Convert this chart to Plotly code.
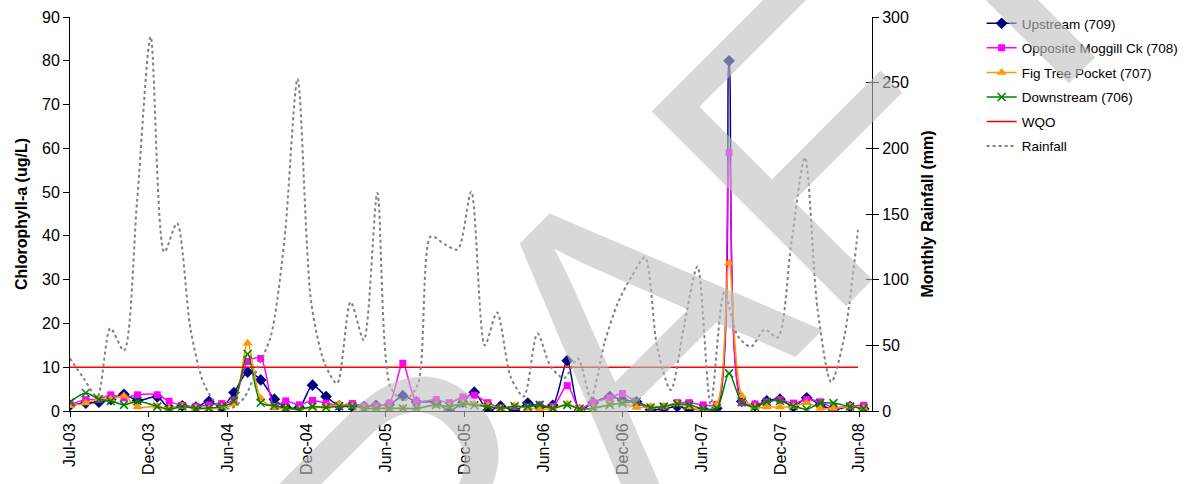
import plotly.graph_objects as go
import pandas as pd

FONT = "Liberation Sans, Arial, sans-serif"

# ---------------- data ----------------
sample_dates = [
    "2003-07-01", "2003-08-06", "2003-09-05", "2003-10-02", "2003-11-01", "2003-12-02",
    "2004-01-16", "2004-02-12", "2004-03-13", "2004-04-13", "2004-05-13", "2004-06-11",
    "2004-07-09", "2004-08-09", "2004-09-08", "2004-10-09", "2004-11-04", "2004-12-05",
    "2005-01-04", "2005-02-04", "2005-03-06", "2005-04-05", "2005-05-02", "2005-05-29",
    "2005-06-28", "2005-07-29", "2005-08-29", "2005-10-13", "2005-11-12", "2005-12-13",
    "2006-01-08", "2006-02-08", "2006-03-09", "2006-04-10", "2006-05-10", "2006-06-06",
    "2006-07-06", "2006-08-08", "2006-09-05", "2006-10-06", "2006-11-13", "2006-12-12",
    "2007-01-13", "2007-02-14", "2007-03-16", "2007-04-16", "2007-05-13", "2007-06-14",
    "2007-07-15", "2007-08-12", "2007-09-10", "2007-10-10", "2007-11-06", "2007-12-06",
    "2008-01-06", "2008-02-05", "2008-03-07", "2008-04-06", "2008-05-14", "2008-06-14",
]

upstream = [1.3, 1.8, 2.0, 2.6, 3.8, 2.4, 3.2, 0.7, 1.2, 0.9, 2.2, 0.9,
            4.2, 8.9, 7.1, 2.7, 0.9, 0.8, 5.9, 3.3, 1.2, 1.0, 1.0, 1.3,
            1.4, 3.5, 2.1, 2.0, 0.0, 2.0, 4.3, 0.1, 1.1, 0.1, 1.8, 1.0,
            1.3, 11.5, 0.2, 1.9, 3.3, 2.5, 2.1, 0.3, 0.5, 1.0, 0.4, 0.4,
            0.6, 80.0, 2.2, 1.2, 2.3, 2.7, 1.0, 3.0, 1.4, 0.3, 1.0, 0.5]

opposite = [1.5, 2.6, 2.7, 3.7, 3.0, 3.7, 3.7, 2.2, 1.3, 1.0, 1.4, 1.7,
            2.5, 11.3, 12.0, 1.0, 2.3, 1.4, 2.4, 1.8, 1.3, 1.7, 1.1, 1.2,
            1.8, 10.9, 2.3, 2.6, 1.9, 3.2, 3.6, 1.9, 0.7, 1.0, 0.9, 1.4,
            1.0, 5.8, 0.6, 2.0, 3.0, 4.0, 1.9, 0.8, 1.0, 1.9, 1.9, 1.4,
            1.5, 59.0, 1.9, 1.6, 2.1, 2.6, 1.8, 2.6, 2.1, 0.8, 1.1, 1.3]

figtree = [1.2, 1.8, 2.8, 2.7, 3.4, 0.9, 1.1, 0.6, 1.0, 0.6, 0.4, 0.9,
           1.6, 15.5, 2.9, 0.8, 0.6, 0.3, 0.9, 0.9, 1.5, 1.1, 0.6, 0.5,
           0.5, 0.7, 0.6, 1.3, 1.1, 1.8, 1.6, 1.3, 0.5, 1.2, 0.6, 0.4,
           0.5, 1.6, 0.5, 0.6, 1.5, 1.7, 0.8, 1.0, 1.1, 1.6, 0.9, 0.1,
           1.4, 33.8, 3.5, 0.9, 0.9, 0.9, 1.0, 1.9, 0.6, 0.6, 1.0, 0.6]

downstream = [2.0, 4.1, 2.7, 2.3, 1.4, 2.3, 1.0, 0.4, 1.0, 0.6, 0.7, 1.0,
              2.3, 13.0, 1.9, 1.2, 0.7, 0.4, 1.0, 0.8, 1.1, 1.1, 0.6, 0.6,
              0.6, 0.6, 0.6, 1.4, 1.0, 1.6, 1.3, 1.0, 0.6, 1.1, 1.0, 1.4,
              0.6, 1.4, 0.5, 0.6, 1.4, 1.8, 2.1, 0.8, 1.0, 1.6, 1.4, 0.5,
              0.6, 8.6, 2.0, 0.9, 2.1, 2.3, 1.1, 0.4, 1.8, 1.8, 1.0, 0.6]

rain_months = pd.date_range("2003-07-01", "2008-06-01", freq="MS")
rainfall = [40, 25, 11, 63, 46, 160, 285, 121, 143, 62, 21, 5,
            2, 10, 33, 57, 130, 253, 83, 36, 21, 83, 54, 166,
            18, 8, 20, 133, 127, 123, 167, 50, 75, 26, 11, 59,
            34, 25, 40, 10, 52, 82, 102, 117, 49, 16, 64, 110,
            5, 90, 57, 49, 62, 56, 128, 193, 77, 22, 57, 138]

wqo_value = 10
wqo_dates = ["2003-07-01", "2008-06-01"]

tick_dates = ["2003-07-01", "2003-12-28", "2004-06-25", "2004-12-22", "2005-06-20",
              "2005-12-17", "2006-06-15", "2006-12-12", "2007-06-10", "2007-12-07",
              "2008-06-04"]
tick_labels = ["Jul-03", "Dec-03", "Jun-04", "Dec-04", "Jun-05", "Dec-05",
               "Jun-06", "Dec-06", "Jun-07", "Dec-07", "Jun-08"]

# ---------------- figure ----------------
fig = go.Figure()

series = [
    ("Upstream (709)", upstream, "#000080", "diamond", 9, None),
    ("Opposite Moggill Ck (708)", opposite, "#FF00FF", "square", 7, None),
    ("Fig Tree Pocket (707)", figtree, "#FF9900", "triangle-up", 9, None),
    ("Downstream (706)", downstream, "#008000", "x-thin", 8, "#008000"),
]
for i, (name, vals, col, sym, size, lc) in enumerate(series):
    marker = dict(symbol=sym, size=size, color=col)
    if lc:
        marker["line"] = dict(color=lc, width=1.5)
    fig.add_trace(go.Scatter(
        x=sample_dates, y=vals, name=name, mode="lines+markers",
        legendgroup=f"g{i}",
        line=dict(color=col, width=1.5, shape="spline", smoothing=0.8),
        marker=marker,
    ))

fig.add_trace(go.Scatter(
    x=wqo_dates, y=[wqo_value, wqo_value], name="WQO", mode="lines",
    legendgroup="g4", line=dict(color="#FF0000", width=1.5),
))

fig.add_trace(go.Scatter(
    x=rain_months, y=rainfall, name="Rainfall", mode="lines", yaxis="y2",
    legendgroup="g5",
    line=dict(color="#808080", width=2, dash="dot", shape="spline", smoothing=0.8),
))

# invisible trace so that the inside-tick axis is drawn
fig.add_trace(go.Scatter(x=[rain_months[0]], y=[None], yaxis="y3",
                         showlegend=False, hoverinfo="skip"))

axis_font = dict(family=FONT, size=16, color="black")
title_font = dict(family=FONT, size=16, color="black", weight="bold")

fig.update_layout(
    template="none",
    width=1189, height=484,
    margin=dict(l=70, r=317, t=17, b=73, autoexpand=False),
    paper_bgcolor="white", plot_bgcolor="white",
    font=dict(family=FONT, color="black"),
    showlegend=True,
    legend=dict(
        x=1.1367, y=1.0228, xanchor="left", yanchor="top",
        font=dict(family=FONT, size=13.5, color="black"),
        bgcolor="rgba(0,0,0,0)", borderwidth=0,
        traceorder="grouped", tracegroupgap=4,
    ),
    xaxis=dict(
        type="date", range=["2003-07-01", "2008-07-03"],
        tickvals=tick_dates, ticktext=tick_labels, tickangle=-90,
        ticks="outside", ticklen=5, tickcolor="black",
        showline=True, linecolor="black", linewidth=1,
        showgrid=False, zeroline=False, tickfont=axis_font, automargin=False,
    ),
    yaxis=dict(
        range=[0, 90], dtick=10, ticks="outside", ticklen=6, tickcolor="black",
        showline=True, linecolor="black", linewidth=1,
        showgrid=False, zeroline=False, tickfont=axis_font, automargin=False,
        title=dict(text="Chlorophyll-a (ug/L)", font=title_font, standoff=10),
    ),
    yaxis2=dict(
        overlaying="y", side="right",
        range=[0, 300], dtick=50, ticks="outside", ticklen=6, tickcolor="black",
        showline=True, linecolor="black", linewidth=1,
        showgrid=False, zeroline=False, tickfont=axis_font, automargin=False,
        title=dict(text="Monthly Rainfall (mm)", font=title_font, standoff=13),
    ),
    # inside half of the crossing tick marks on the right axis
    yaxis3=dict(
        overlaying="y", side="right", range=[0, 300], dtick=50,
        ticks="inside", ticklen=6, tickcolor="black", showticklabels=False,
        showline=False, showgrid=False, zeroline=False, automargin=False,
    ),
)

# DRAFT watermark overlay
fig.add_annotation(
    text="DRAFT", xref="paper", yref="paper", x=0.6598, y=0.135,
    xanchor="center", yanchor="middle", showarrow=False, textangle=-45,
    font=dict(family=FONT, size=400, color="rgba(190,190,190,0.6)"),
)

fig.write_html("out.html", post_script="document.body.style.margin='0px';",
               config={"displayModeBar": False})
